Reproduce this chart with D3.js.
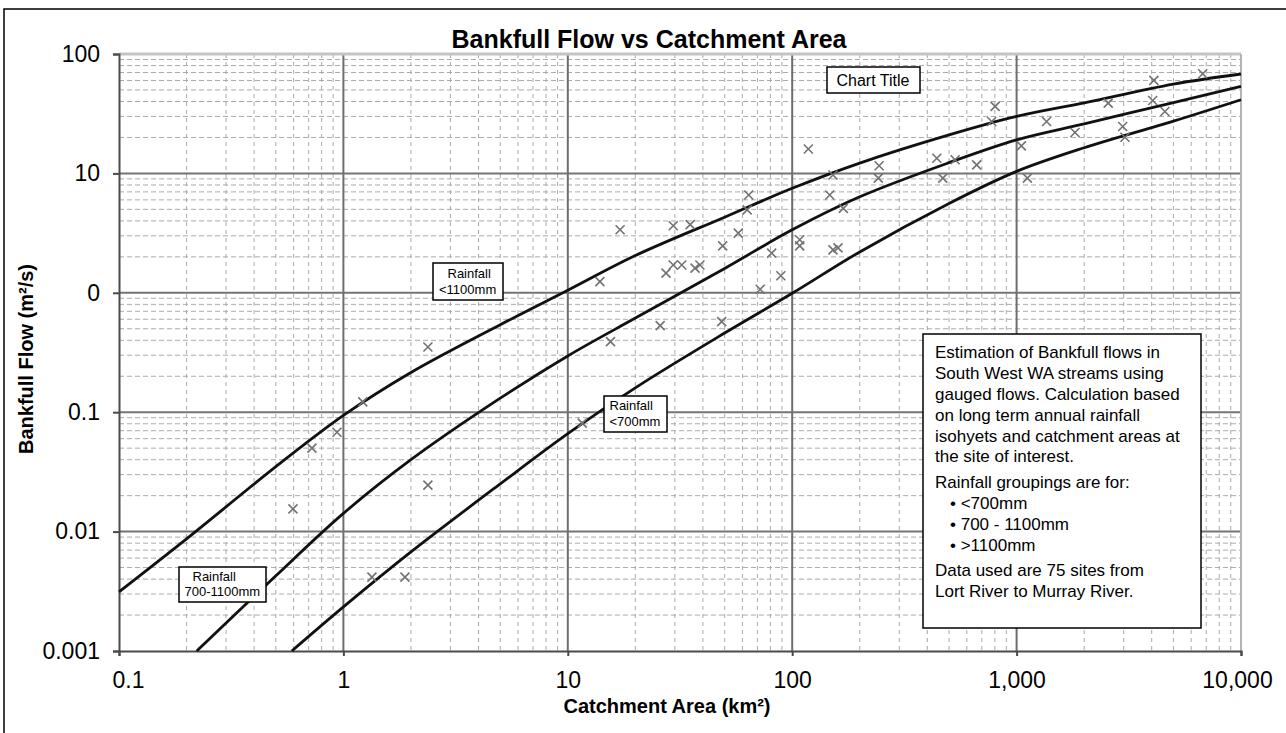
<!DOCTYPE html>
<html>
<head>
<meta charset="utf-8">
<title>Bankfull Flow vs Catchment Area</title>
<script src="https://cdn.jsdelivr.net/npm/d3@7"></script>
<style>
    body{margin:0;background:#fff;}
    svg{display:block;font-family:"Liberation Sans",Arial,sans-serif;}
</style>
</head>
<body>
<div id="chart"></div>
<script>
// gauged sites, catchment area (km2) and bankfull flow
var siteArea = [118,152,147,64,63,17.1,29.5,35.1,57.5,49,108,108,81,152,160,29.5,32.2,36.9,38.8,27.4,
    89,13.9,72,48.5,25.8,15.5,6750,4090,4040,2560,802,4580,1360,774,1820,2970,3040,1050,441,532,
    664,244,242,469,1117,169,2.38,1.22,0.936,0.724,0.596,2.38,1.34,1.88,11.6];
var siteFlow = [16.0,9.7,6.6,6.6,4.95,3.37,3.64,3.72,3.16,2.47,2.78,2.47,2.15,2.29,2.38,1.71,1.71,1.61,1.71,1.46,
    1.39,1.24,1.07,0.574,0.531,0.39,68.4,60.1,40.8,38.8,36.4,33,27.2,27.2,22,24.7,20.1,17,13.4,13,
    11.8,11.6,9.14,9.14,9.14,5.1,0.352,0.122,0.068,0.050,0.0155,0.0245,0.00416,0.00416,0.081];

// rainfall group curves
var highArea = [0.1,0.2,0.5,1,2,5,10,20,50,100,200,500,1000,2000,5000,10000];
var highFlow = [0.00313,0.0087,0.035,0.094,0.215,0.54,1.05,2.05,4.3,7.5,12.2,21,30,39,56,68];
var midArea = [0.222,0.5,1,2,5,10,20,50,100,200,500,1000,2000,5000,10000];
var midFlow = [0.001,0.00426,0.0142,0.040,0.131,0.296,0.614,1.6,3.37,6.37,12.3,19.1,26,39.2,53.5];
var lowArea = [0.589,1,2,5,10,20,50,100,200,500,1000,2000,5000,10000];
var lowFlow = [0.001,0.00234,0.00676,0.0251,0.0661,0.16,0.46,0.99,2.2,5.6,10.4,16.4,27.4,41.4];

var xTickValues = [0.1,1,10,100,1000,10000];
var xTickLabels = ['0.1','1','10','100','1,000','10,000'];
var yTickValues = [0.001,0.01,0.1,1,10,100];
var yTickLabels = ['0.001','0.01','0.1','0','10','100'];

var noteLines = ['Estimation of Bankfull flows in','South West WA streams using','gauged flows. Calculation based',
    'on long term annual rainfall','isohyets and catchment areas at','the site of interest.','',
    'Rainfall groupings are for:','\u2022 <700mm','\u2022 700 - 1100mm','\u2022 >1100mm','',
    'Data used are 75 sites from','Lort River to Murray River.'];

(function(){
    'use strict';
    var svg = d3.select('#chart').append('svg').attr('width',1286).attr('height',733);

    var x = d3.scaleLog().domain([0.1,10000]).range([119,1241]);
    var y = d3.scaleLog().domain([0.001,100]).range([651,54]);

    function isMajor(v){
        var l = Math.log10(v);
        return Math.abs(l - Math.round(l)) < 1e-6;
    }

    // outer frame (only left and top show)
    svg.append('path').attr('d','M4,733L4,9L1286,9').attr('fill','none').attr('stroke','#000').attr('stroke-width',1.5);

    var grid = svg.append('g');
    grid.selectAll('line.mx').data(x.ticks().filter(function(d){return !isMajor(d);})).enter()
        .append('line').attr('class','mx')
        .attr('x1',x).attr('x2',x).attr('y1',y(100)).attr('y2',y(0.001))
        .attr('stroke','#ababab').attr('stroke-width',1).attr('stroke-dasharray','4,4');
    grid.selectAll('line.my').data(y.ticks().filter(function(d){return !isMajor(d);})).enter()
        .append('line').attr('class','my')
        .attr('y1',y).attr('y2',y).attr('x1',x(0.1)).attr('x2',x(10000))
        .attr('stroke','#ababab').attr('stroke-width',1).attr('stroke-dasharray','5,3');
    grid.selectAll('line.Mx').data([1,10,100,1000]).enter()
        .append('line').attr('class','Mx')
        .attr('x1',x).attr('x2',x).attr('y1',y(100)).attr('y2',y(0.001))
        .attr('stroke','#6e6e6e').attr('stroke-width',2);
    grid.selectAll('line.My').data([0.01,0.1,1,10]).enter()
        .append('line').attr('class','My')
        .attr('y1',y).attr('y2',y).attr('x1',x(0.1)).attr('x2',x(10000))
        .attr('stroke','#747474').attr('stroke-width',2);
    // light top and right edges of the plot area
    grid.append('line').attr('x1',x(0.1)).attr('x2',x(10000)).attr('y1',y(100)).attr('y2',y(100))
        .attr('stroke','#c4c4c4').attr('stroke-width',3);
    grid.append('line').attr('x1',x(10000)).attr('x2',x(10000)).attr('y1',y(100)).attr('y2',y(0.001))
        .attr('stroke','#b4b4b4').attr('stroke-width',2);

    var xAxis = d3.axisBottom(x).tickValues(xTickValues)
        .tickFormat(function(d,i){return xTickLabels[i];}).tickSize(5).tickPadding(16);
    var gx = svg.append('g').attr('transform','translate(0,'+y(0.001)+')').call(xAxis);
    gx.select('.domain').attr('stroke','#4a4a4a').attr('stroke-width',2);
    gx.selectAll('.tick line').attr('stroke','#4a4a4a').attr('stroke-width',2);
    gx.selectAll('.tick text').attr('font-size',23).attr('fill','#000')
        .attr('font-family','"Liberation Sans",Arial,sans-serif')
        .attr('dx',function(d,i){return i===0 ? 9 : (i===xTickValues.length-1 ? -4 : 0);});

    var yAxis = d3.axisLeft(y).tickValues(yTickValues)
        .tickFormat(function(d,i){return yTickLabels[i];}).tickSize(6).tickPadding(13);
    var gy = svg.append('g').attr('transform','translate('+x(0.1)+',0)').call(yAxis);
    gy.select('.domain').attr('stroke','#4a4a4a').attr('stroke-width',2);
    gy.selectAll('.tick line').attr('stroke','#4a4a4a').attr('stroke-width',2);
    gy.selectAll('.tick text').attr('font-size',23).attr('fill','#000')
        .attr('font-family','"Liberation Sans",Arial,sans-serif');

    // curves
    var line = d3.line().x(function(d){return x(d[0]);}).y(function(d){return y(d[1]);}).curve(d3.curveCatmullRom);
    [[highArea,highFlow],[midArea,midFlow],[lowArea,lowFlow]].forEach(function(c){
        svg.append('path').datum(d3.zip(c[0],c[1])).attr('d',line)
            .attr('fill','none').attr('stroke','#111').attr('stroke-width',2.8);
    });

    // site markers
    var r = 4.5;
    svg.append('g').selectAll('path').data(d3.zip(siteArea,siteFlow)).enter()
        .append('path')
        .attr('d',function(d){
            var px = x(d[0]), py = y(d[1]);
            return 'M'+(px-r)+','+(py-r)+'L'+(px+r)+','+(py+r)+'M'+(px-r)+','+(py+r)+'L'+(px+r)+','+(py-r);
        })
        .attr('stroke','#727272').attr('stroke-width',1.6).attr('fill','none');

    // titles
    svg.append('text').attr('x',649).attr('y',48).attr('text-anchor','middle')
        .attr('font-size',25).attr('font-weight','bold').text('Bankfull Flow vs Catchment Area');
    svg.append('text').attr('x',667).attr('y',713).attr('text-anchor','middle')
        .attr('font-size',20).attr('font-weight','bold').text('Catchment Area (km\u00b2)');
    svg.append('text').attr('transform','translate(33,359) rotate(-90)').attr('text-anchor','middle')
        .attr('font-size',20).attr('font-weight','bold').text('Bankfull Flow (m\u00b2/s)');

    // boxed labels
    function box(bx,by,bw,bh){
        svg.append('rect').attr('x',bx).attr('y',by).attr('width',bw).attr('height',bh)
            .attr('fill','#fff').attr('stroke','#000').attr('stroke-width',1.5);
    }
    function label(tx,ty,size,s){
        svg.append('text').attr('x',tx).attr('y',ty).attr('font-size',size).text(s);
    }

    box(827,67,93,26);
    label(836.5,86,16,'Chart Title');

    box(433,263,70,37);
    label(447.5,277.5,13,'Rainfall');
    label(439,294,13,'<1100mm');

    box(604,396,63,36);
    label(609.5,409.5,13,'Rainfall');
    label(609.5,425.5,13,'<700mm');

    box(179,567,87,35);
    label(192.5,580.5,13,'Rainfall');
    label(184.5,596,13,'700-1100mm');

    box(923,334,278,294);
    var ty = 358.3;
    noteLines.forEach(function(s){
        if(s === ''){ ty += 5; return; }
        label(s.charAt(0) === '\u2022' ? 950 : 935, ty, 17, s);
        ty += 20.8;
    });
}());
</script>
</body>
</html>
